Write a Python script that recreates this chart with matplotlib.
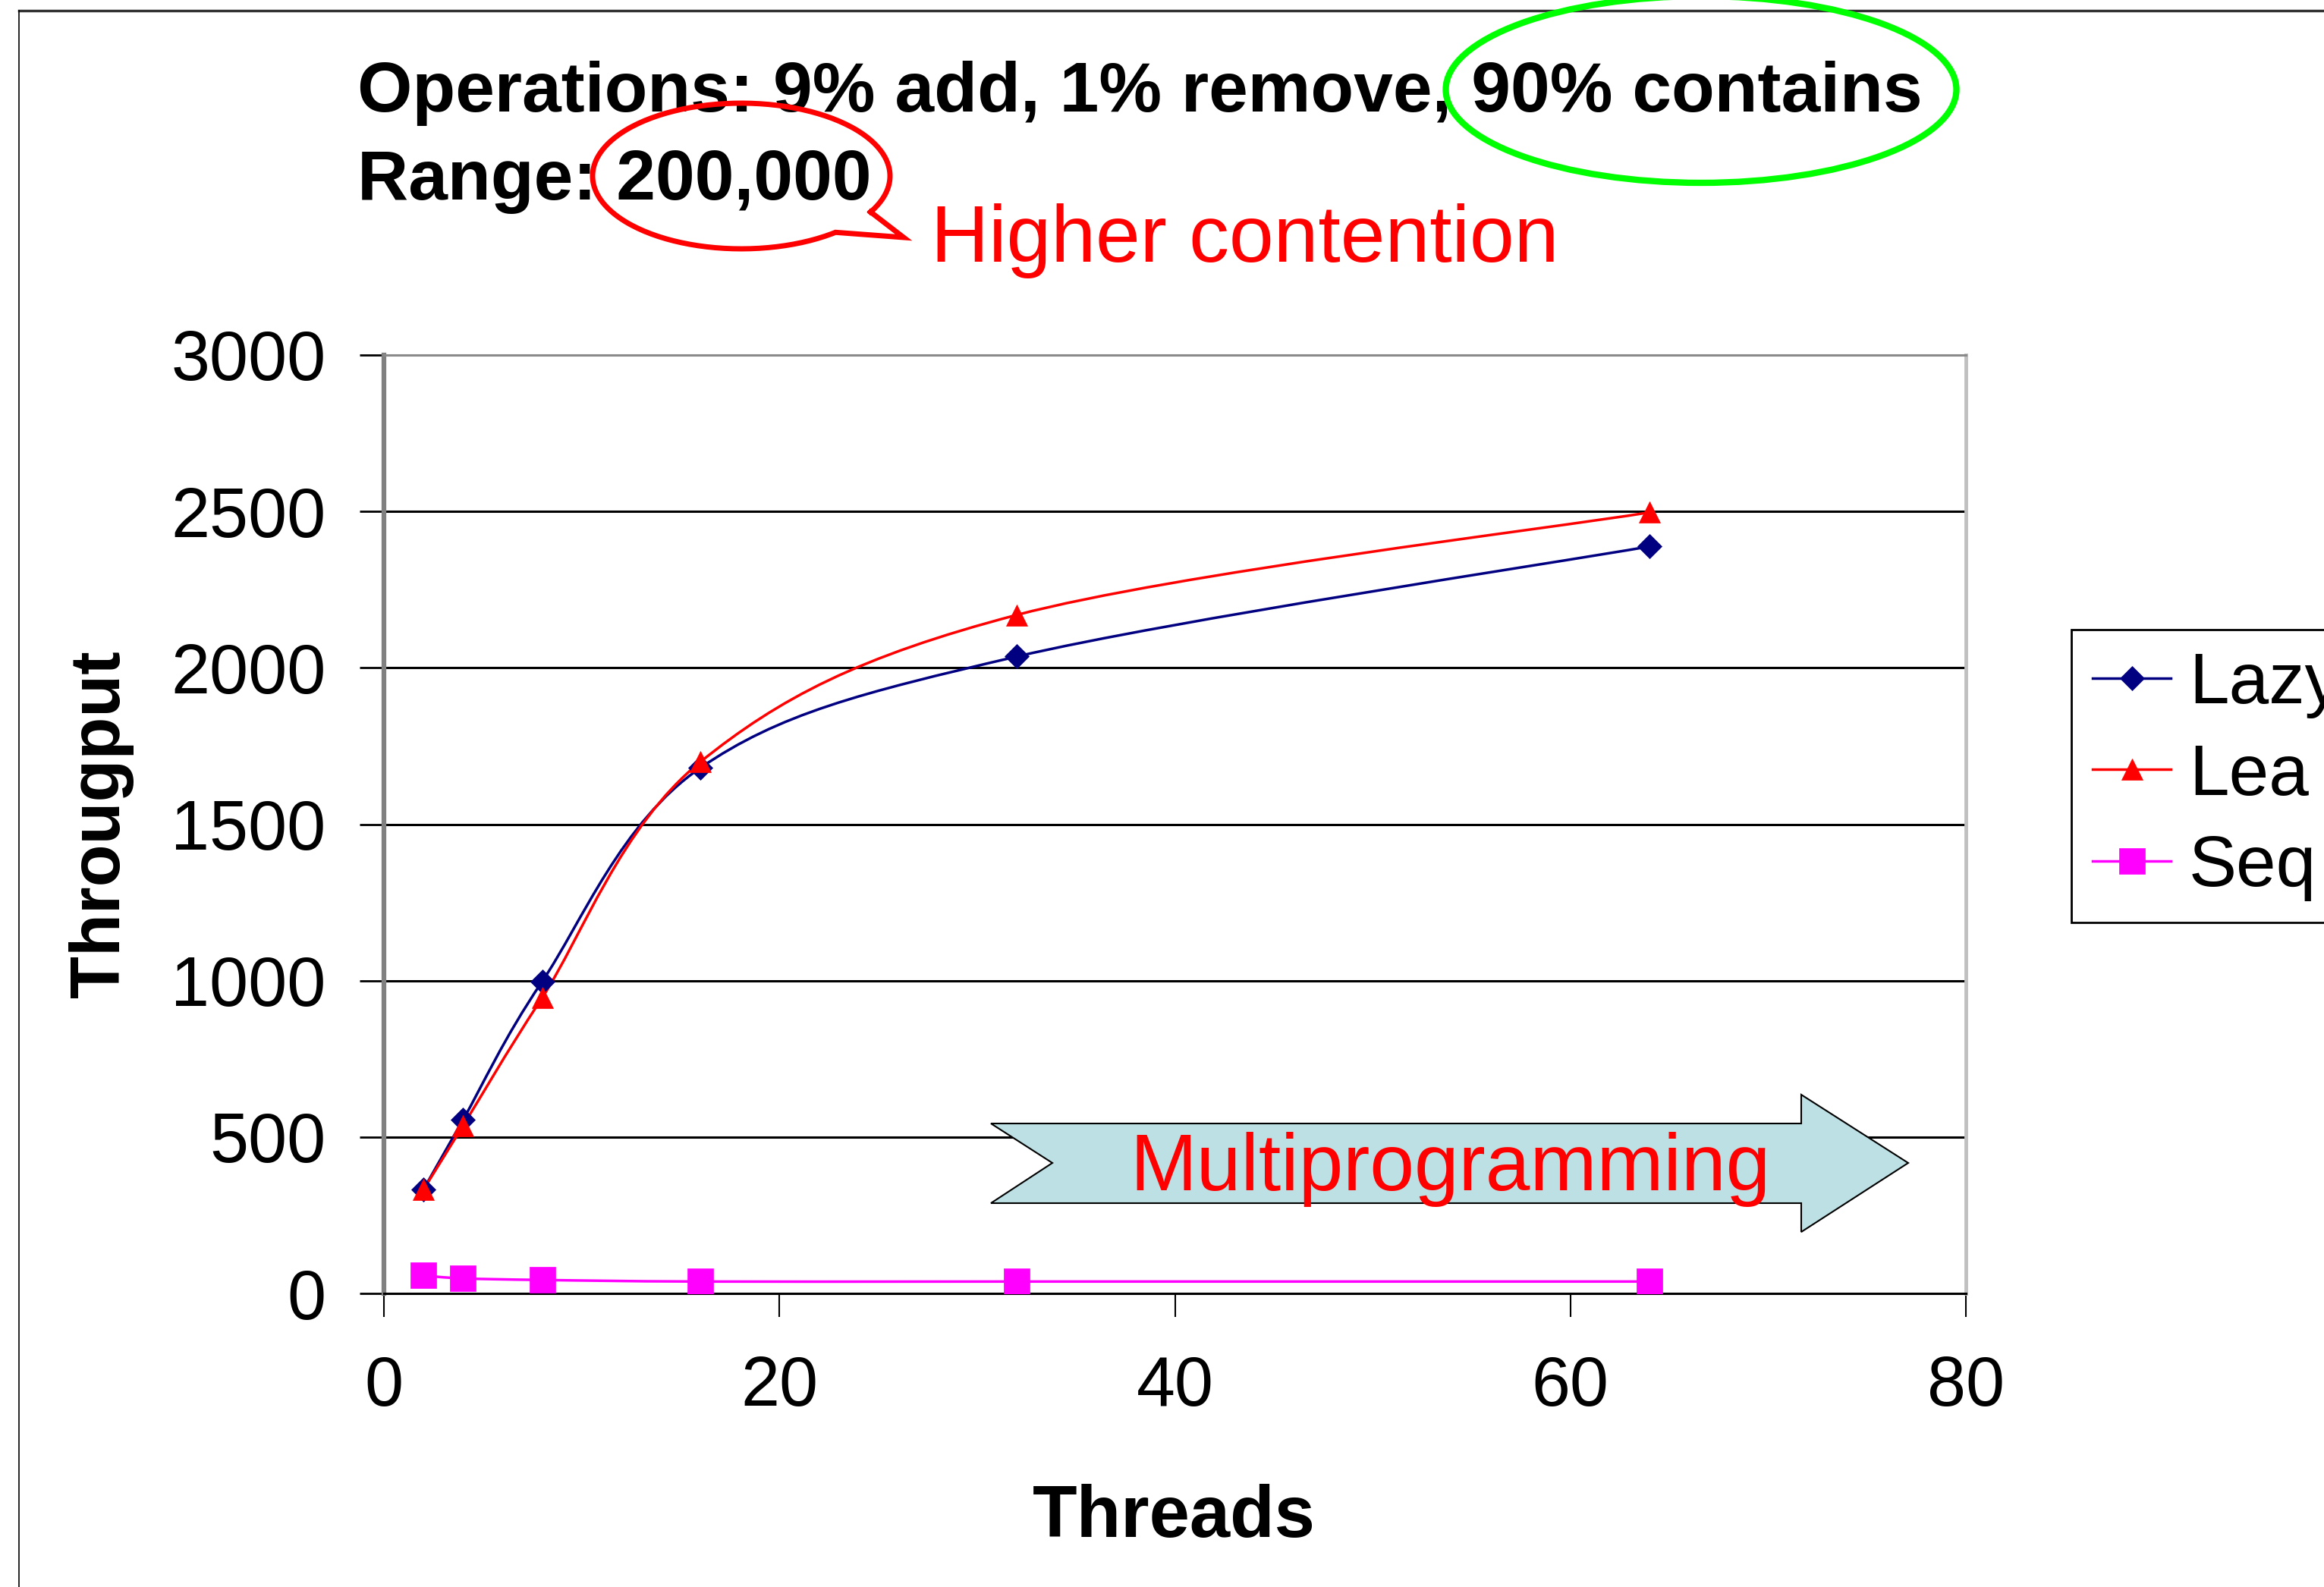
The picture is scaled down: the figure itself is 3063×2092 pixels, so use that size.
import numpy as np
import matplotlib
matplotlib.use('Agg')
import matplotlib.pyplot as plt
from matplotlib.path import Path
from matplotlib.patches import PathPatch, Ellipse, Polygon
from matplotlib.lines import Line2D

# data
threads = [2, 4, 8, 16, 32, 64]
lazy = [332, 555, 997, 1680, 2036, 2388]
lea = [332, 536, 945, 1699, 2169, 2497]
seq = [57, 48, 43, 38, 38, 38]
names = ['Lazy', 'Lea', 'Seq']
xticks = [0, 20, 40, 60, 80]
yticks = [0, 500, 1000, 1500, 2000, 2500, 3000]

W, H = 3063, 2092
plt.rcParams['font.family'] = ['Liberation Sans', 'DejaVu Sans']


def fp(x, y):
    # pixel position (from top-left) -> figure fraction
    return (x / W, 1 - y / H)


def smooth_path(xs, ys):
    # Excel-style smoothed line: cubic bezier through the points
    pts = np.column_stack([xs, ys]).astype(float)
    n = len(pts)
    verts = [pts[0]]
    codes = [Path.MOVETO]
    for i in range(n - 1):
        p0 = pts[max(i - 1, 0)]
        p1 = pts[i]
        p2 = pts[i + 1]
        p3 = pts[min(i + 2, n - 1)]
        verts += [p1 + (p2 - p0) / 6, p2 - (p3 - p1) / 6, p2]
        codes += [Path.CURVE4] * 3
    return Path(verts, codes)


fig = plt.figure(figsize=(W / 100, H / 100), dpi=100)
ax = fig.add_axes([506 / W, 1 - 1705 / H, (2591 - 506) / W, (1705 - 468) / H])
ax.set_xlim(0, 80)
ax.set_ylim(0, 3000)

for y in yticks[1:-1]:
    ax.axhline(y, color='black', lw=2.2, zorder=0.5)

styles = [
    (lazy, '#000080', 'D', 16),
    (lea, '#FF0000', '^', 20),
    (seq, '#FF00FF', 's', 24),
]
handles = []
for (vals, col, mk, ms), name in zip(styles, names):
    ax.add_patch(PathPatch(smooth_path(threads, vals), fill=False,
                           edgecolor=col, lw=2.5, zorder=2))
    ax.plot(threads, vals, ls='none', marker=mk, ms=ms, color=col,
            mew=0.5, zorder=3)
    handles.append(Line2D([], [], color=col, lw=2.5, marker=mk, ms=ms, mew=0.5))

ax.set_xticks(xticks)
ax.set_yticks(yticks)
ax.tick_params(axis='y', direction='out', length=23, width=2, color='black',
               pad=32, labelsize=66)
ax.tick_params(axis='x', direction='out', length=22, width=1.5, color='black',
               pad=36, labelsize=66)
ax.xaxis.get_major_ticks()[-1].tick1line.set_color('#a0a0a0')
ax.spines['left'].set_color('#808080')
ax.spines['left'].set_linewidth(4.5)
ax.spines['bottom'].set_color('black')
ax.spines['bottom'].set_linewidth(2.2)
ax.spines['top'].set_color('#8a8a8a')
ax.spines['top'].set_linewidth(2.2)
ax.spines['right'].set_color('#c0c0c0')
ax.spines['right'].set_linewidth(3.5)

fig.text(*fp(1547, 2026), 'Threads', fontsize=69, fontweight='bold',
         ha='center', va='baseline')
fig.text(*fp(133, 1086), 'Througput', fontsize=66, fontweight='bold',
         rotation=90, ha='center', va='center')

fig.legend(handles, names, loc='upper left', bbox_to_anchor=fp(2730, 830),
           bbox_transform=fig.transFigure, borderaxespad=0, fontsize=68,
           frameon=True, fancybox=False, edgecolor='black', framealpha=1,
           handlelength=1.09, handletextpad=0.25, borderpad=0.3,
           labelspacing=0.33).get_frame().set_linewidth(2)

# header text
fig.text(*fp(471, 147), 'Operations: 9% add, 1% remove, 90% contains',
         fontsize=67, fontweight='bold', ha='left', va='baseline')
fig.text(*fp(471, 263), 'Range: 200,000', fontsize=67, fontweight='bold',
         ha='left', va='baseline')
fig.text(*fp(1227, 345), 'Higher contention', fontsize=76, color='#FF0000',
         ha='left', va='baseline')

# green ellipse
cx, cy = fp(2242, 118)
fig.patches.append(Ellipse((cx, cy), 673 / W, 246 / H, fill=False,
                           edgecolor='#00FF00', lw=6,
                           transform=fig.transFigure, zorder=5))

# red callout: ellipse outline with a wedge tail
t = np.radians(np.linspace(-29.6, 360 - 50.7, 200))
ex = 977 + 196 * np.cos(t)
ey = 232 - 96 * np.sin(t)
ex = np.append(ex, [1191, ex[0]])
ey = np.append(ey, [313, ey[0]])
fig.lines.append(Line2D(ex / W, 1 - ey / H, color='#FF0000', lw=5,
                        solid_joinstyle='miter', transform=fig.transFigure,
                        zorder=5))

# multiprogramming arrow
arrow = [(1306, 1481), (2374, 1481), (2374, 1443), (2515, 1533),
         (2374, 1624), (2374, 1586), (1306, 1586), (1387, 1533)]
fig.patches.append(Polygon([fp(x, y) for x, y in arrow], closed=True,
                           facecolor='#BCE0E3', edgecolor='black', lw=1.5,
                           transform=fig.transFigure, zorder=5))
fig.text(*fp(1911, 1569), 'Multiprogramming', fontsize=76, color='#FF0000',
         ha='center', va='baseline', zorder=6)

# slide frame
fig.lines.append(Line2D([25 / W, 1], [1 - 14 / H] * 2, color='#333333', lw=2.5,
                        transform=fig.transFigure))
fig.lines.append(Line2D([25 / W] * 2, [0, 1 - 14 / H], color='black', lw=1.2,
                        transform=fig.transFigure))

fig.savefig('out.png', dpi=100)
